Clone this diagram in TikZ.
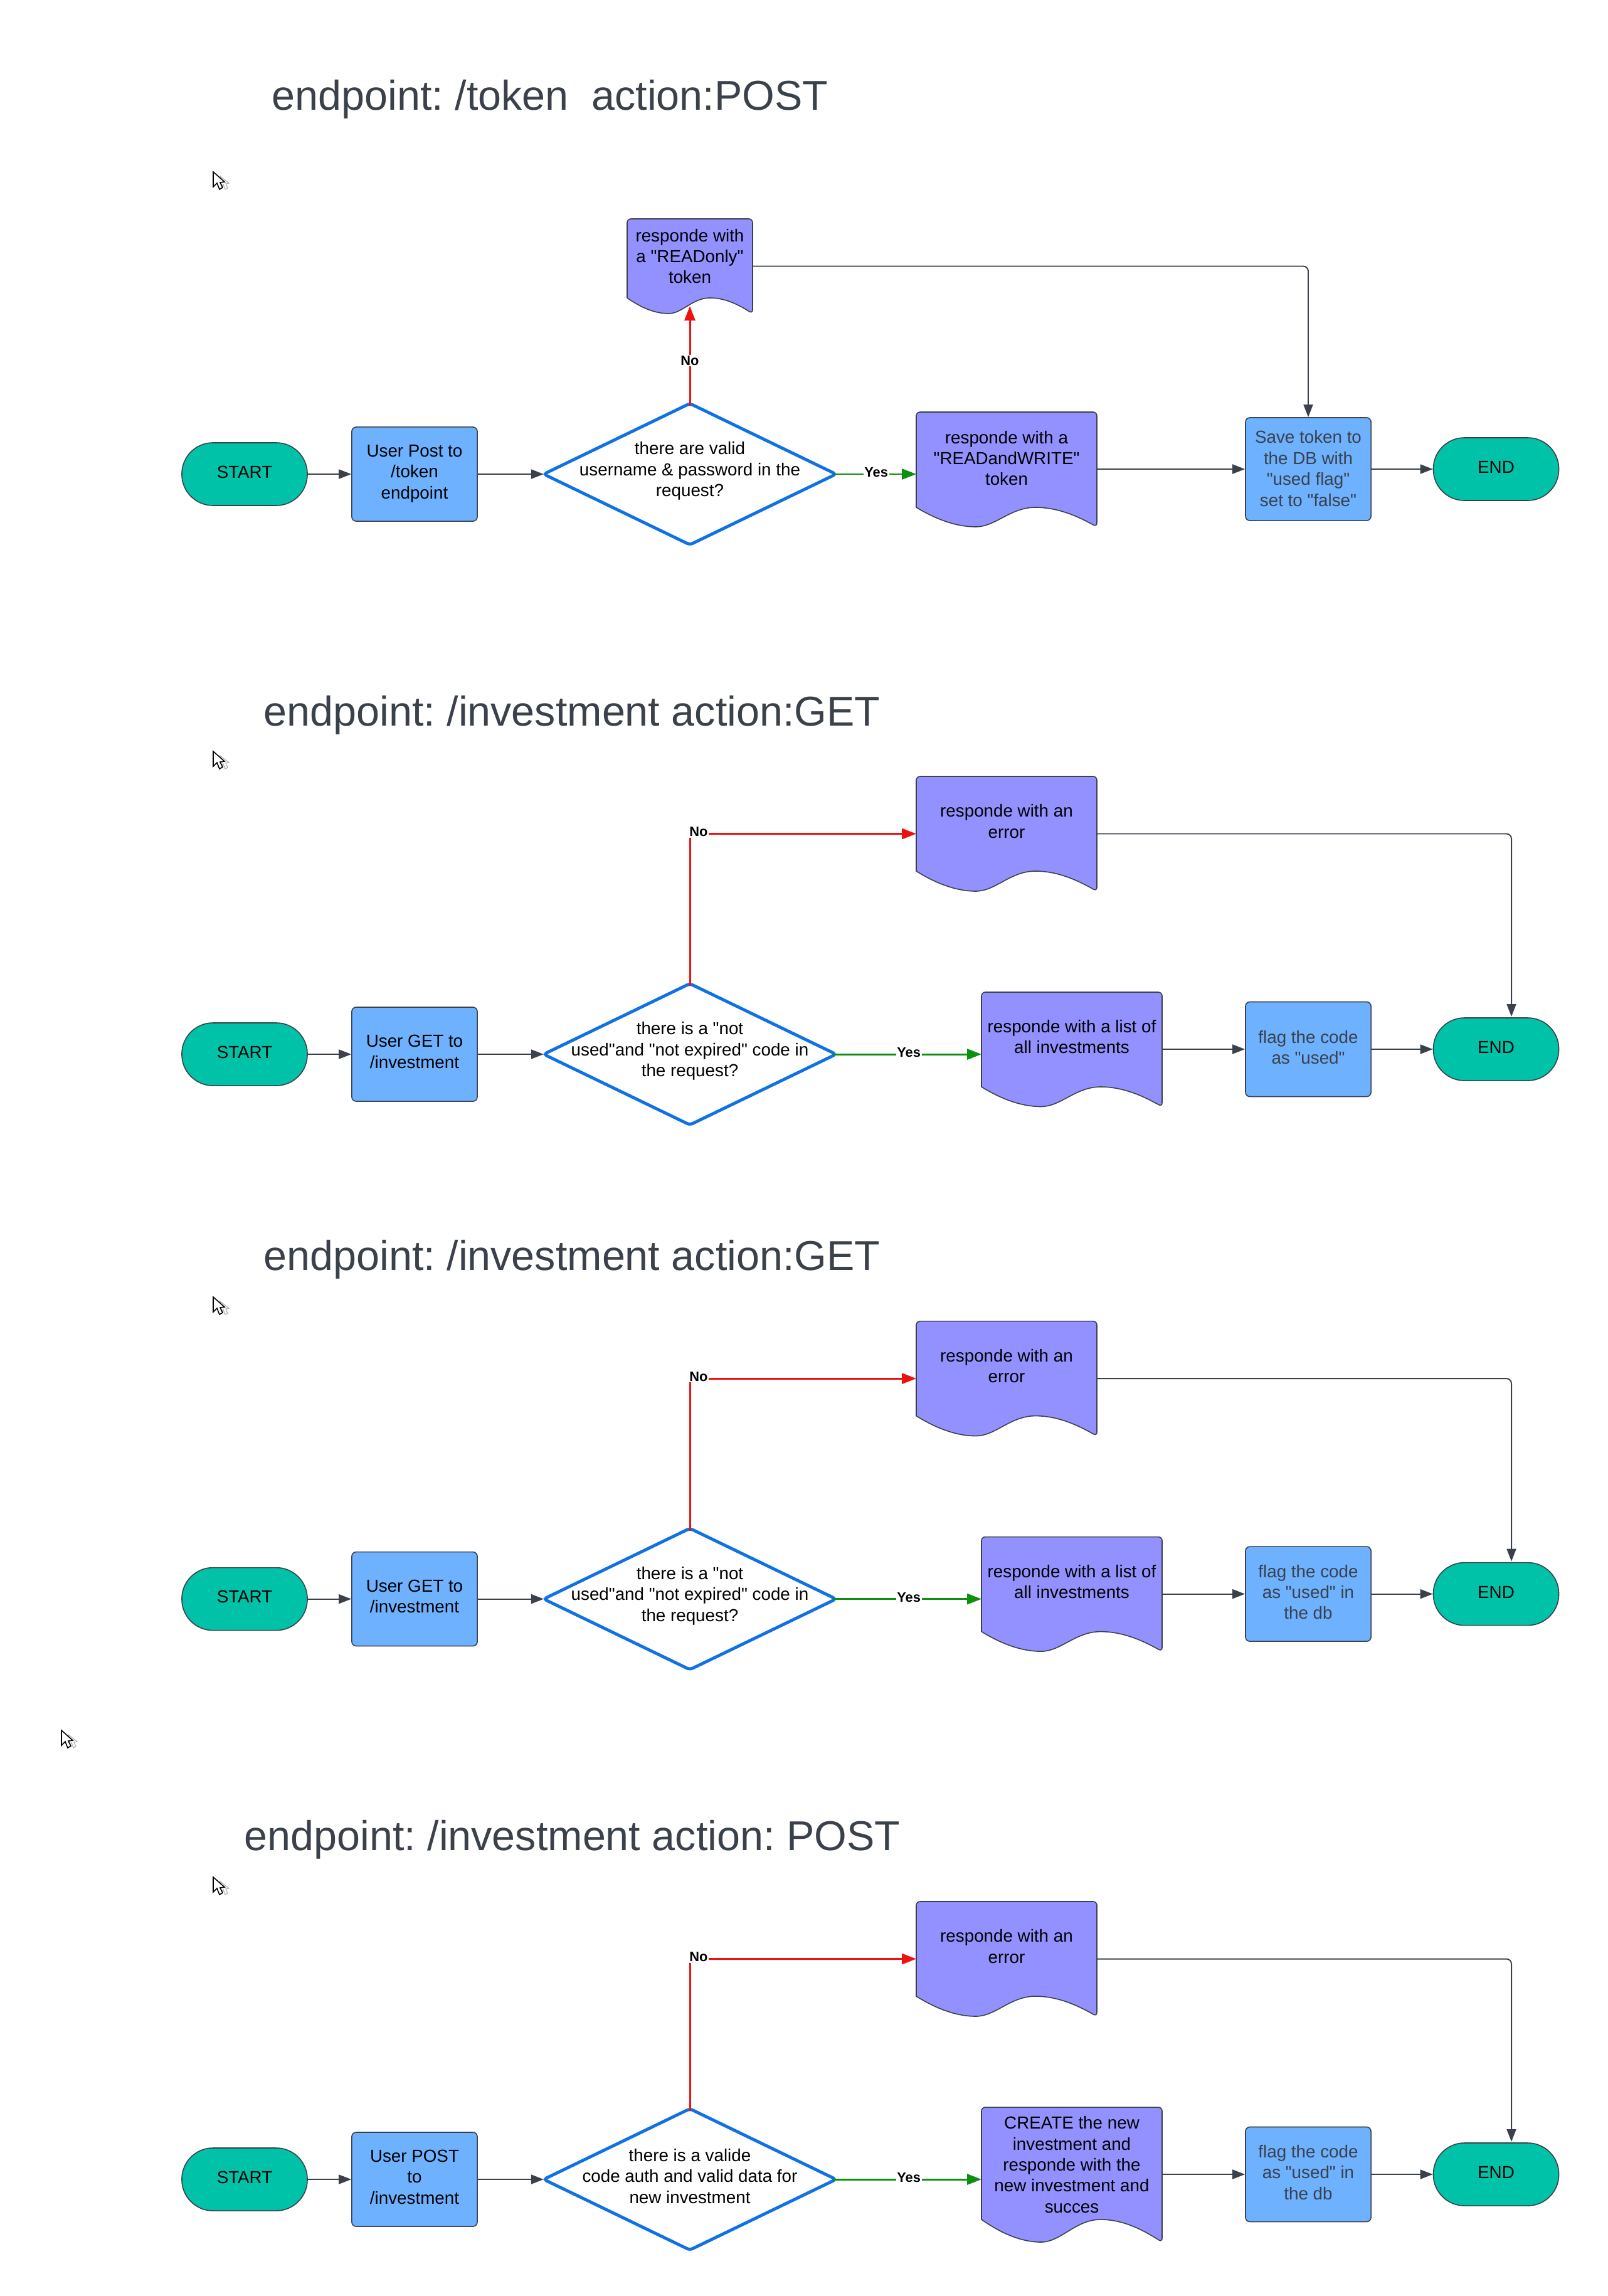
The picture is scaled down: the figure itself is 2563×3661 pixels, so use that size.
\documentclass[tikz,border=0pt]{standalone}
\usepackage{fontspec}
\setmainfont{Liberation Sans}[Ligatures=TeXOff]
\usetikzlibrary{arrows.meta,shapes.geometric,calc}
\definecolor{inkgray}{HTML}{3A414A}
\definecolor{termfill}{HTML}{00C2A8}
\definecolor{procfill}{HTML}{6DB1FF}
\definecolor{docfill}{HTML}{9391FF}
\definecolor{diablue}{HTML}{1071E5}
\definecolor{nored}{HTML}{EF1010}
\definecolor{yesgreen}{HTML}{0C900F}
\frenchspacing
\tikzset{
  txt/.style={font=\fontsize{7.9}{9.5}\selectfont,align=center,inner sep=0pt,text=black},
  graytxt/.style={txt,text=inkgray},
  titletxt/.style={font=\fontsize{18.9}{22}\selectfont,text=inkgray,anchor=base west,inner sep=0pt},
  term/.style={draw=inkgray,line width=0.45pt,fill=termfill,rounded corners=0.495cm,minimum width=2cm,minimum height=1cm,inner sep=0pt},
  procbox/.style={draw=inkgray,line width=0.45pt,fill=procfill,rounded corners=0.07cm,minimum width=2cm,inner sep=0pt},
  decide/.style={diamond,draw=diablue,line width=1.4pt,fill=white,rounded corners=0.05cm,aspect=2.067,minimum width=4.66cm,minimum height=2.25cm,inner sep=0pt,outer sep=0pt},
  docedge/.style={draw=inkgray,line width=0.45pt,fill=docfill},
  conn/.style={draw=inkgray,line width=0.55pt,-{Triangle[length=0.2cm,width=0.15cm]}},
  elbow/.style={conn,rounded corners=0.08cm},
  noline/.style={draw=nored,line width=0.85pt,shorten <=-0.04cm,-{Triangle[length=0.23cm,width=0.17cm]}},
  yesline/.style={draw=yesgreen,line width=0.85pt,shorten <=-0.04cm,-{Triangle[length=0.23cm,width=0.17cm]}},
  lbl/.style={font=\fontsize{6.2}{7}\selectfont\bfseries,fill=white,inner sep=0.5pt,text=black},
}
% document shape: name, x1, x2, top, bottom, wave start, text offset, text
\newcommand{\docnode}[8]{%
  \pgfmathsetmacro{\dW}{#3-#2}%
  \pgfmathsetmacro{\dCx}{(#2+#3)/2}%
  \pgfmathsetmacro{\dCy}{(#4+#5)/2}%
  \pgfmathsetmacro{\dH}{#5-#4}%
  \pgfmathsetmacro{\dWcm}{\dW*0.01}%
  \pgfmathsetmacro{\dHcm}{\dH*0.01}%
  \pgfmathsetmacro{\dLow}{#2+0.33*\dW}%
  \pgfmathsetmacro{\dHigh}{#2+0.66*\dW}%
  \pgfmathsetmacro{\dAa}{#2+0.92*\dW}%
  \pgfmathsetmacro{\dAb}{#2+0.80*\dW}%
  \pgfmathsetmacro{\dAc}{#2+0.52*\dW}%
  \pgfmathsetmacro{\dAd}{#2+0.44*\dW}%
  \pgfmathsetmacro{\dAe}{#2+0.20*\dW}%
  \pgfmathsetmacro{\dAf}{#2+0.08*\dW}%
  \pgfmathsetmacro{\dYa}{#6+0.45*(#5-#6)}%
  \pgfmathsetmacro{\dYb}{#6+0.60*(#5-#6)}%
  \pgfmathsetmacro{\dOff}{0.01*(#7)}%
  \path[docedge] (#2,#6) [rounded corners=0.06cm] -- (#2,#4) -- (#3,#4) -- (#3,#5) [sharp corners]
    .. controls (\dAa,\dYb) and (\dAb,#6) .. (\dHigh,#6)
    .. controls (\dAc,#6) and (\dAd,#5) .. (\dLow,#5)
    .. controls (\dAe,#5) and (\dAf,\dYa) .. (#2,#6) -- cycle;
  \node[minimum width=\dWcm cm,minimum height=\dHcm cm,inner sep=0pt,outer sep=0pt,
        label={[txt,yshift=\dOff cm]center:{#8}}] (#1) at (\dCx,\dCy) {};
}
% pointer icon
\newcommand{\pointer}[2]{%
  \begin{scope}[shift={(#1,#2)}]
    \draw[draw=black!30,line width=0.35pt,fill=white,line join=miter] (11,7) -- (11,25) -- (16,20) -- (19,28) -- (23,26) -- (20,19) -- (25,18) -- cycle;
    \draw[draw=black,line width=0.45pt,fill=white,line join=miter] (0,0) -- (0,24) -- (6,18) -- (10,28) -- (15,25) -- (11,17) -- (18,16) -- cycle;
  \end{scope}
}
% section with error branch: prefix, y, process text, decision text, doc top, bottom, wave, doc text, flag text
\newcommand{\flowsec}[9]{%
  \begin{scope}[shift={(0,#2)}]
    \node[term,label={[txt,yshift=0.035cm]center:START}] (#1start) at (390,0) {};
    \node[procbox,minimum height=1.5cm,label={[txt,yshift=0.04cm]center:{#3}}] (#1proc) at (661,0) {};
    \node[decide,label={[txt,yshift=0.05cm]center:{#4}}] (#1dia) at (1100,0) {};
    \docnode{#1err}{1461}{1749}{-443}{-260}{-292}{20}{responde with an\\error}
    \docnode{#1list}{1565}{1853}{#5}{#6}{#7}{\listoff}{#8}
    \node[procbox,minimum height=1.51cm,label={[graytxt,yshift=0.03cm]center:{#9}}] (#1flag) at (2086,-8) {};
    \node[term,label={[txt,yshift=0.03cm]center:END}] (#1end) at (2385.5,-8) {};
    \coordinate (#1drop) at (2410,-60);
    \draw[conn] (#1start) -- (#1proc);
    \draw[conn] (#1proc) -- (#1dia);
    \draw[noline] (#1dia.north) |- node[lbl,pos=0.5,xshift=0.14cm,yshift=0.03cm] {No} (#1err.west);
    \draw[yesline] (#1dia.east) -- node[lbl,midway,yshift=0.03cm] {Yes} (#1list.west |- #1dia);
    \draw[conn] (#1list.east |- #1flag) -- (#1flag);
    \draw[conn] (#1flag) -- (#1end);
    \draw[elbow] (#1err.east) -| (#1drop);
  \end{scope}
}
\begin{document}
\begin{tikzpicture}[x=0.01cm,y=-0.01cm]
  \useasboundingbox (0,0) rectangle (2563,3661);
  \node[titletxt] (t1) at (433,176) {endpoint: /token\ \ action:POST};
  \node[titletxt] (t2) at (420,1157) {endpoint: /investment action:GET};
  \node[titletxt] (t3) at (420,2025) {endpoint: /investment action:GET};
  \node[titletxt] (t4) at (389,2950) {endpoint: /investment action: POST};

  \pointer{340}{274}
  \pointer{340}{1198}
  \pointer{340}{2068}
  \pointer{340}{2993}
  \pointer{98}{2759}

  % section 1
  \begin{scope}[shift={(0,756)}]
    \node[term,label={[txt,yshift=0.035cm]center:START}] (s1start) at (390,0) {};
    \node[procbox,minimum height=1.5cm,label={[txt,yshift=0.01cm]center:{User Post to\\/token\\endpoint}}] (s1proc) at (661,0) {};
    \node[decide,label={[txt,yshift=0.05cm]center:{there are valid\\username \& password in the\\request?}}] (s1dia) at (1100,0) {};
    \docnode{s1ro}{1000}{1200}{-407}{-256}{-281}{16}{responde with\\a "READonly"\\token}
    \docnode{s1rw}{1461}{1749}{-99}{84}{53}{18}{responde with a\\"READandWRITE"\\token}
    \node[procbox,minimum height=1.64cm,label={[graytxt,yshift=0.01cm]center:{Save token to\\the DB with\\"used flag"\\set to "false"}}] (s1save) at (2086,-8) {};
    \node[term,label={[txt,yshift=0.03cm]center:END}] (s1end) at (2385.5,-8) {};
    \coordinate (s1roin) at (1100,-268);
    \draw[conn] (s1start) -- (s1proc);
    \draw[conn] (s1proc) -- (s1dia);
    \draw[noline] (s1dia.north) -- node[lbl,pos=0.44] {No} (s1roin);
    \draw[yesline] (s1dia.east) -- node[lbl,midway,yshift=0.03cm] {Yes} (s1rw.west |- s1dia);
    \draw[conn] (s1rw.east |- s1save) -- (s1save);
    \draw[conn] (s1save) -- (s1end);
    \draw[elbow] (s1ro.east) -| (s1save.north);
  \end{scope}

  \def\listoff{20}
  \flowsec{s2}{1681}{User GET to\\/investment}{there is a "not\\used"and "not expired" code in\\the request?}{-99}{83.5}{52}{responde with a list of\\all investments}{flag the code\\as "used"}
  \flowsec{s3}{2549.6}{User GET to\\/investment}{there is a "not\\used"and "not expired" code in\\the request?}{-99}{83.5}{52}{responde with a list of\\all investments}{flag the code\\as "used" in\\the db}
  \def\listoff{16}
  \flowsec{s4}{3475}{User POST\\to\\/investment}{there is a valide\\code auth and valid data for\\new investment}{-115}{100}{64}{CREATE the new\\investment and\\responde with the\\new investment and\\succes}{flag the code\\as "used" in\\the db}
\end{tikzpicture}
\end{document}
